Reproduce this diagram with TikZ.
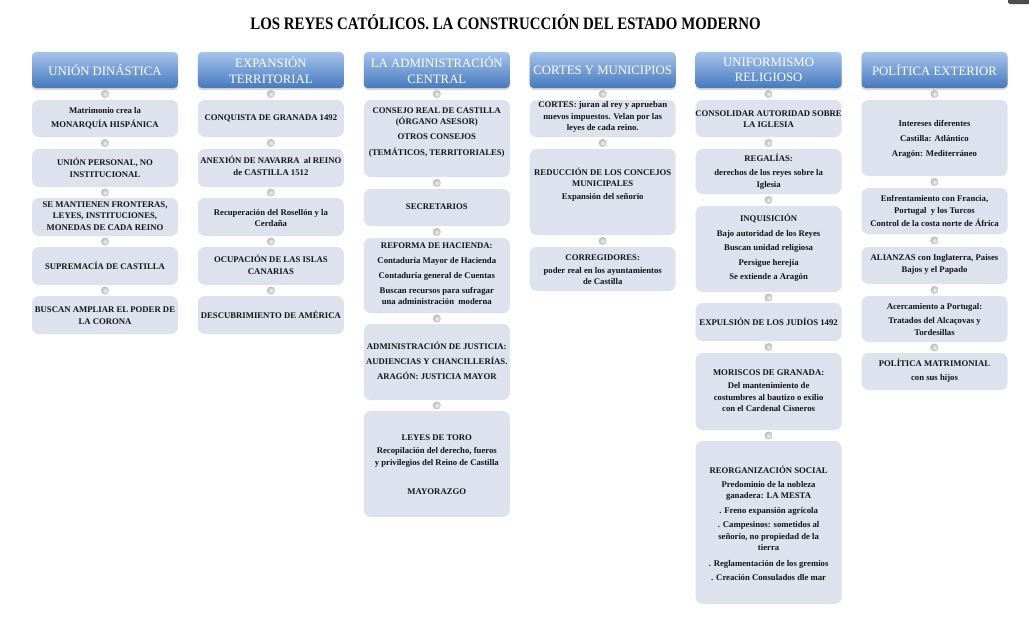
\documentclass[tikz,border=0pt]{standalone}
\usepackage{fontspec}
\setmainfont{Liberation Serif}
\newfontfamily\titlefont[FakeStretch=0.85]{Liberation Serif}
\usetikzlibrary{shadows}
\definecolor{boxfill}{RGB}{221,226,238}
\definecolor{hdtop}{RGB}{165,195,236}
\definecolor{hdbot}{RGB}{70,122,190}
\definecolor{txt}{RGB}{20,20,20}
\tikzset{
 cb/.style={fill=boxfill, rounded corners=7pt, minimum width=146pt, inner sep=0pt},
 tx/.style={text=txt, align=center, font=\bfseries\fontsize{8.7}{11.5}\selectfont, inner sep=0pt},
 hd/.style={rounded corners=4pt, minimum width=146pt, minimum height=36pt, top color=hdtop, bottom color=hdbot, text=white, align=center, font=\fontsize{12.8}{15.5}\selectfont, drop shadow={shadow xshift=0pt, shadow yshift=-2pt, opacity=0.3}, inner sep=0pt},
 dotnode/.style={circle, minimum size=8pt, inner sep=0pt, inner color=gray!10, outer color=gray!55},
}
\newcommand\bx[6]{\node[cb, minimum height={#4-#3}] (#1) at (#2,{(#3+#4)/2}) {};
  \node[tx] (#1t) at (#2,#5) {#6};}
\newcommand\hdr[3]{\node[hd] (#1) at (#2,70) {#3};}
\newcommand\dt[2]{\path (#1.south) -- node[dotnode]{} (#2.north);}
\begin{document}
\begin{tikzpicture}[x=1pt,y=-1pt]
\fill[white] (0,0) rectangle (1029,621);
\useasboundingbox (0,0) rectangle (1029,621);
\fill[black!70, rounded corners=1.5pt] (1008,-3) rectangle (1032,4);
\node[font=\titlefont\bfseries\fontsize{17.5}{20}\selectfont] (title) at (505.5,22) {LOS REYES CATÓLICOS. LA CONSTRUCCIÓN DEL ESTADO MODERNO};
% column 1
\def\cx{105}
\hdr{h1}{\cx}{UNIÓN DINÁSTICA}
\bx{a1}{\cx}{100}{137}{118}{Matrimonio crea la\\[3pt]MONARQUÍA HISPÁNICA}
\bx{a2}{\cx}{149}{187}{168}{UNIÓN PERSONAL, NO\\INSTITUCIONAL}
\bx{a3}{\cx}{198}{236}{216}{SE MANTIENEN FRONTERAS,\\LEYES, INSTITUCIONES,\\MONEDAS DE CADA REINO}
\bx{a4}{\cx}{247}{285}{266}{SUPREMACÍA DE CASTILLA}
\bx{a5}{\cx}{296}{334}{315.5}{BUSCAN AMPLIAR EL PODER DE\\LA CORONA}
\dt{h1}{a1}\dt{a1}{a2}\dt{a2}{a3}\dt{a3}{a4}\dt{a4}{a5}
% column 2
\def\cx{270.9}
\hdr{h2}{\cx}{EXPANSIÓN\\TERRITORIAL}
\bx{b1}{\cx}{100}{137}{118}{CONQUISTA DE GRANADA 1492}
\bx{b2}{\cx}{149}{187}{166}{ANEXIÓN DE NAVARRA\ \ al REINO\\de CASTILLA 1512}
\bx{b3}{\cx}{198}{236}{218}{Recuperación del Rosellón y la\\Cerdaña}
\bx{b4}{\cx}{247}{285}{265}{OCUPACIÓN DE LAS ISLAS\\CANARIAS}
\bx{b5}{\cx}{296}{334}{315}{DESCUBRIMIENTO DE AMÉRICA}
\dt{h2}{b1}\dt{b1}{b2}\dt{b2}{b3}\dt{b3}{b4}\dt{b4}{b5}
% column 3
\def\cx{436.8}
\hdr{h3}{\cx}{LA ADMINISTRACIÓN\\CENTRAL}
\bx{c1}{\cx}{100}{177}{132.5}{CONSEJO REAL DE CASTILLA\\(ÓRGANO ASESOR)\\[3pt]OTROS CONSEJOS\\[5pt](TEMÁTICOS, TERRITORIALES)}
\bx{c2}{\cx}{189}{226}{207}{SECRETARIOS}
\bx{c3}{\cx}{238}{313}{274}{REFORMA DE HACIENDA:\\[3pt]Contaduría Mayor de Hacienda\\[4pt]Contaduría general de Cuentas\\[3pt]Buscan recursos para sufragar\\una administración\ \ moderna}
\bx{c4}{\cx}{324}{400}{360.5}{ADMINISTRACIÓN DE JUSTICIA:\\[3.5pt]AUDIENCIAS Y CHANCILLERÍAS.\\[3.5pt]ARAGÓN: JUSTICIA MAYOR}
\bx{c5}{\cx}{411}{517}{464.5}{LEYES DE TORO\\[2pt]Recopilación del derecho, fueros\\y privilegios del Reino de Castilla\\[18pt]MAYORAZGO}
\dt{h3}{c1}\dt{c1}{c2}\dt{c2}{c3}\dt{c3}{c4}\dt{c4}{c5}
% column 4
\def\cx{602.7}
\hdr{h4}{\cx}{CORTES Y MUNICIPIOS}
\bx{d1}{\cx}{100}{137}{117}{CORTES: juran al rey y aprueban\\nuevos impuestos. Velan por las\\leyes de cada reino.}
\bx{d2}{\cx}{149}{235}{184.5}{REDUCCIÓN DE LOS CONCEJOS\\MUNICIPALES\\[1.5pt]Expansión del señorío}
\bx{d3}{\cx}{247}{291}{269.5}{CORREGIDORES:\\[1.5pt]poder real en los ayuntamientos\\de Castilla}
\dt{h4}{d1}\dt{d1}{d2}\dt{d2}{d3}
% column 5
\def\cx{768.6}
\hdr{h5}{\cx}{UNIFORMISMO\\RELIGIOSO}
\bx{e1}{\cx}{100}{137}{119}{CONSOLIDAR AUTORIDAD SOBRE\\LA IGLESIA}
\bx{e2}{\cx}{149}{194}{171.5}{REGALÍAS:\\[3pt]derechos de los reyes sobre la\\Iglesia}
\bx{e3}{\cx}{206}{292}{248}{INQUISICIÓN\\[3pt]Bajo autoridad de los Reyes\\[3pt]Buscan unidad religiosa\\[3pt]Persigue herejía\\[3pt]Se extiende a Aragón}
\bx{e4}{\cx}{303}{341}{322}{EXPULSIÓN DE LOS JUDÍOS 1492}
\bx{e5}{\cx}{353}{430}{390.5}{MORISCOS DE GRANADA:\\[2pt]Del mantenimiento de\\costumbres al bautizo o exilio\\con el Cardenal Cisneros}
\bx{e6}{\cx}{441}{604}{523}{REORGANIZACIÓN SOCIAL\\[2.5pt]Predominio de la nobleza\\ganadera: LA MESTA\\[3.5pt]. Freno expansión agrícola\\[2.5pt]. Campesinos: sometidos al\\señorío, no propiedad de la\\tierra\\[4pt]. Reglamentación de los gremios\\[2.5pt]. Creación Consulados dle mar}
\dt{h5}{e1}\dt{e1}{e2}\dt{e2}{e3}\dt{e3}{e4}\dt{e4}{e5}\dt{e5}{e6}
% column 6
\def\cx{934.5}
\hdr{h6}{\cx}{POLÍTICA EXTERIOR}
\bx{f1}{\cx}{100}{176}{139.5}{Intereses diferentes\\[3.5pt]Castilla: Atlántico\\[3.5pt]Aragón: Mediterráneo}
\bx{f2}{\cx}{188}{234}{211}{Enfrentamiento con Francia,\\Portugal\ \ y los Turcos\\[1.5pt]Control de la costa norte de África}
\bx{f3}{\cx}{247}{284}{264.5}{ALIANZAS con Inglaterra, Paises\\Bajos y el Papado}
\bx{f4}{\cx}{296}{342}{319.5}{Acercamiento a Portugal:\\[2.5pt]Tratados del Alcaçovas y\\Tordesillas}
\bx{f5}{\cx}{353}{390}{371}{POLÍTICA MATRIMONIAL\\[2.5pt]con sus hijos}
\dt{h6}{f1}\dt{f1}{f2}\dt{f2}{f3}\dt{f3}{f4}\dt{f4}{f5}
\end{tikzpicture}
\end{document}
